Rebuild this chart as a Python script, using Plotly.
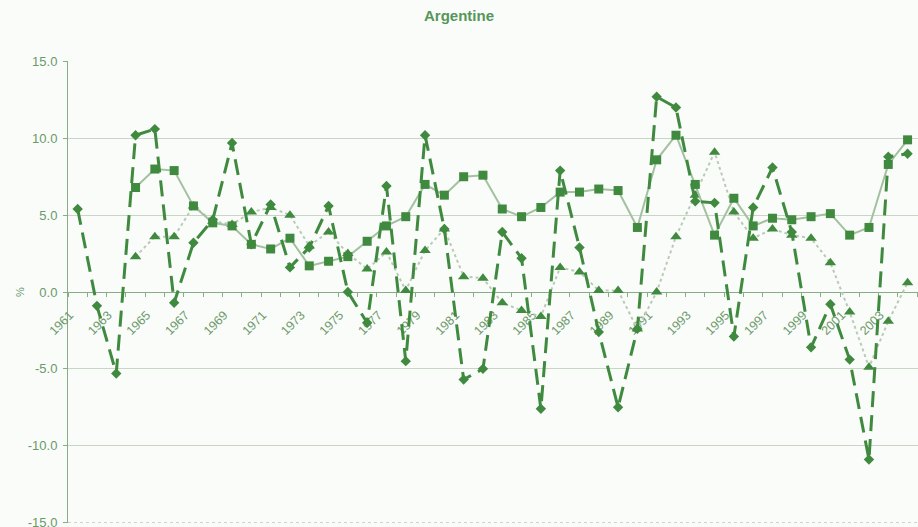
import plotly.graph_objects as go

years = list(range(1961, 2005))

diamond_vals = [5.4, -0.9, -5.3, 10.2, 10.6, -0.7, 3.2, 4.7, 9.7, 3.1,
                5.7, 1.6, 2.9, 5.6, 0.0, -2.0, 6.9, -4.5, 10.2, 4.1,
                -5.7, -5.0, 3.9, 2.2, -7.6, 7.9, 2.9, -2.6, -7.5, -2.4,
                12.7, 12.0, 5.9, 5.8, -2.9, 5.5, 8.1, 3.9, -3.6, -0.8,
                -4.4, -10.9, 8.8, 9.0]

square_vals = [None, None, None, 6.8, 8.0, 7.9, 5.6, 4.5, 4.3, 3.1,
               2.8, 3.5, 1.7, 2.0, 2.3, 3.3, 4.3, 4.9, 7.0, 6.3,
               7.5, 7.6, 5.4, 4.9, 5.5, 6.5, 6.5, 6.7, 6.6, 4.2,
               8.6, 10.2, 7.0, 3.7, 6.1, 4.3, 4.8, 4.7, 4.9, 5.1,
               3.7, 4.2, 8.3, 9.9]

triangle_vals = [None, None, None, 2.3, 3.6, 3.6, 5.6, 4.6, 4.4, 5.2,
                 5.5, 5.0, 3.0, 3.9, 2.5, 1.5, 2.6, 0.1, 2.7, 4.1,
                 1.0, 0.9, -0.7, -1.2, -1.6, 1.6, 1.3, 0.1, 0.1, -2.4,
                 0.0, 3.6, 6.3, 9.1, 5.2, 3.5, 4.1, 3.7, 3.5, 1.9,
                 -1.3, -4.9, -1.9, 0.6]

tick_years = list(range(1961, 2005, 2))
tick_labels = [str(y) for y in tick_years]
y_ticks = [-15, -10, -5, 0, 5, 10, 15]
y_tick_labels = ["-15.0", "-10.0", "-5.0", "0.0", "5.0", "10.0", "15.0"]

marker_green = "#3f8a3f"
light_line = "#a3c0a0"
text_green = "#6a996a"
axis_green = "#86ad86"
grid_col = "#c9d6c6"

fig = go.Figure()

fig.add_trace(go.Scatter(
    x=years, y=triangle_vals, mode="lines+markers", name="triangle",
    line=dict(color="#b9cbb6", width=2, dash="dot"),
    marker=dict(symbol="triangle-up", size=10, color=marker_green),
    connectgaps=False, showlegend=False))

fig.add_trace(go.Scatter(
    x=years, y=square_vals, mode="lines+markers", name="square",
    line=dict(color=light_line, width=2),
    marker=dict(symbol="square", size=9, color=marker_green),
    showlegend=False))

fig.add_trace(go.Scatter(
    x=years, y=diamond_vals, mode="lines+markers", name="diamond",
    line=dict(color=marker_green, width=3, dash="16px,8px"),
    marker=dict(symbol="diamond", size=8, color=marker_green),
    showlegend=False))

fig.update_layout(
    width=918, height=527,
    margin=dict(l=68, r=0, t=61, b=4, autoexpand=False),
    paper_bgcolor="#fafcf9", plot_bgcolor="#fafcf9",
    font=dict(family="Arial, Liberation Sans, sans-serif", color=text_green, size=10),
    title=dict(text="<b>Argentine</b>", x=0.5, xref="container", xanchor="center",
               y=1 - 16 / 527, yref="container", yanchor="middle",
               font=dict(size=15, color="#55965a")),
    shapes=[dict(type="line", xref="paper", x0=0, x1=1, yref="y", y0=-15, y1=-15,
                 line=dict(color=grid_col, width=1, dash="dot"), layer="below")],
)

fig.update_xaxes(
    range=[1960.5, 2004.54], automargin=False,
    anchor="free", position=0.5,
    showline=True, linecolor=axis_green, linewidth=1,
    showgrid=False, zeroline=False,
    tickmode="array", tickvals=tick_years, ticktext=tick_labels,
    ticks="", tickangle=-45, ticklabelstandoff=10, ticklabelshift=-8,
    tickfont=dict(size=12.5, color=text_green),
    minor=dict(tick0=1960.5, dtick=1, ticks="outside", ticklen=4,
               tickcolor=axis_green, showgrid=False),
    layer="below traces",
)

fig.update_yaxes(
    range=[-15.03, 15.03], automargin=False,
    tickmode="array", tickvals=y_ticks, ticktext=y_tick_labels,
    ticklabeloverflow="allow",
    showline=True, linecolor=axis_green, linewidth=1,
    ticks="outside", ticklen=4, tickcolor=axis_green,
    showgrid=True, gridcolor=grid_col, gridwidth=1, zeroline=False,
    tickfont=dict(size=13, color=text_green), ticklabelstandoff=3,
    title=dict(text="%", standoff=0, font=dict(size=11, color=text_green)),
    layer="below traces",
)

fig.write_html("out.html", config={"displayModeBar": False},
               post_script="document.body.style.margin='0';document.body.style.overflow='hidden';")
